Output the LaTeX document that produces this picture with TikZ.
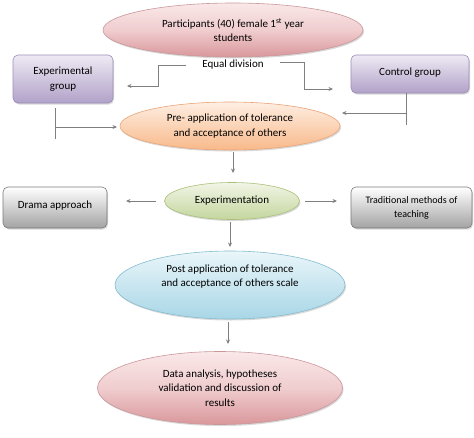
\documentclass[tikz,border=0pt]{standalone}
\usepackage{fontspec}
\setmainfont{Carlito}
\usetikzlibrary{shapes.geometric,shadows,arrows.meta}
\definecolor{arrgray}{HTML}{7F7F7F}
\definecolor{pinkT}{HTML}{FAE8E8}
\definecolor{pinkM}{HTML}{F0CDCF}
\definecolor{pinkB}{HTML}{D9979B}
\definecolor{pinkD}{HTML}{C9979A}
\definecolor{peachT}{HTML}{FEEEE2}
\definecolor{peachB}{HTML}{F8B98A}
\definecolor{peachD}{HTML}{E9A477}
\definecolor{greenT}{HTML}{F1F5E6}
\definecolor{greenB}{HTML}{C4D69E}
\definecolor{greenD}{HTML}{A9C07A}
\definecolor{blueT}{HTML}{EAF6FA}
\definecolor{blueB}{HTML}{A8D6E6}
\definecolor{blueD}{HTML}{86BDD0}
\definecolor{purT}{HTML}{EEEAF4}
\definecolor{purB}{HTML}{B1A1C8}
\definecolor{purD}{HTML}{9C8DB8}
\definecolor{grayT}{HTML}{FFFFFF}
\definecolor{grayB}{HTML}{A3A3A3}
\definecolor{grayD}{HTML}{7A7A7A}
\begin{document}
\begin{tikzpicture}[x=1pt,y=-1pt,
  font=\fontsize{11}{14.5}\selectfont,
  shad/.style={drop shadow={opacity=0.3,shadow xshift=1pt,shadow yshift=-1.5pt}},
  ell/.style={ellipse,inner sep=0pt,align=center,line width=0.6pt,shad},
  pinkell/.style={ell,draw=pinkD,top color=pinkT,bottom color=pinkB,middle color=pinkM},
  peachell/.style={ell,draw=peachD,top color=peachT,bottom color=peachB},
  greenell/.style={ell,draw=greenD,top color=greenT,bottom color=greenB},
  blueell/.style={ell,draw=blueD,top color=blueT,bottom color=blueB},
  box/.style={rectangle,rounded corners=5pt,inner sep=0pt,align=center,line width=0.6pt,shad},
  purbox/.style={box,draw=purD,top color=purT,bottom color=purB},
  graybox/.style={box,draw=grayD,top color=grayT,bottom color=grayB},
  arr/.style={draw=arrgray,line width=0.8pt,-{Stealth[length=4.5pt,width=4pt]}},
  ln/.style={draw=arrgray,line width=0.8pt}
]
\useasboundingbox (0,0) rectangle (474,437);

\node[pinkell,minimum width=260pt,minimum height=54pt] (top) at (233,30)
  {Participants (40) female 1\textsuperscript{st} year\\students};
\node[inner xsep=16pt,inner ysep=2pt] (eq) at (233,65) {Equal division};
\node[purbox,minimum width=100pt,minimum height=48pt] (exp) at (63,79)
  {Experimental\\group};
\node[purbox,minimum width=118pt,minimum height=38pt] (ctrl) at (410,74)
  {\raisebox{5pt}{Control group}};
\node[peachell,minimum width=220pt,minimum height=48pt] (pre) at (230,126)
  {Pre- application of tolerance\\and acceptance of others};
\node[greenell,minimum width=135pt,minimum height=37pt] (expt) at (232,201)
  {Experimentation};
\node[graybox,minimum width=104pt,minimum height=41pt] (drama) at (55,207.5)
  {\raisebox{6pt}{Drama approach}};
\node[graybox,minimum width=121pt,minimum height=41pt,font=\fontsize{10}{14}\selectfont] (trad) at (411.5,207.5)
  {Traditional methods of\\teaching};
\node[blueell,minimum width=230pt,minimum height=68pt] (post) at (230,285)
  {Post application of tolerance\\and acceptance of others scale\\[4pt]};
\node[pinkell,minimum width=245pt,minimum height=73pt] (data) at (220,388)
  {Data analysis, hypotheses\\validation and discussion of\\results};

% coordinates for free ends
\coordinate (eqLend) at (127,86);
\coordinate (eqRend) at (333,89);
\coordinate (expBot) at (55,108);
\coordinate (expLow) at (55,139);
\coordinate (expArr) at (117,127);
\coordinate (ctrlLow) at (406,125);
\coordinate (ctrlArr) at (342,113);
\coordinate (preArr) at (233,173);
\coordinate (dramaArr) at (126,201);
\coordinate (tradArr) at (337,201);
\coordinate (exptArr) at (230,247);
\coordinate (postArr) at (228,344);

\draw[arr] (eq.west) -- ++(-28,0) |- (eqLend);
\draw[arr] ([yshift=3pt]eq.east) -- ++(25,0) |- (eqRend);
\draw[ln] (expBot) -- (expLow);
\draw[arr] (expBot |- expArr) -- (expArr);
\draw[ln] (ctrl.south -| ctrlLow) -- (ctrlLow);
\draw[arr] (ctrlLow |- ctrlArr) -- (ctrlArr);
\draw[arr] (pre.south -| preArr) ++(0,2) -- (preArr);
\draw[arr] (expt.west) ++(-8,0) -- (dramaArr);
\draw[arr] (expt.east) ++(5,0) -- (tradArr);
\draw[arr] (expt.south -| exptArr) ++(0,2) -- (exptArr);
\draw[arr] (post.south -| postArr) ++(0,3) -- (postArr);
\end{tikzpicture}
\end{document}
